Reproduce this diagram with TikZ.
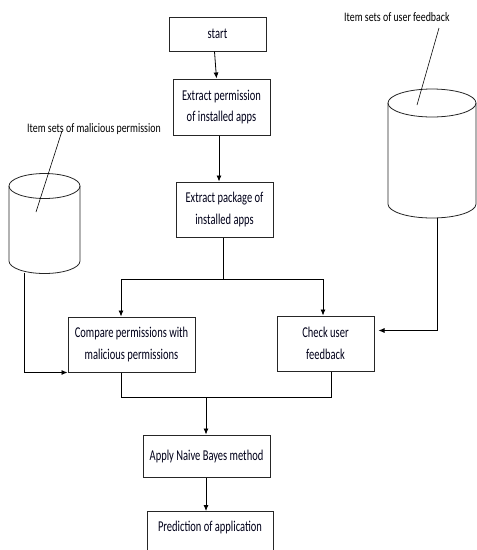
\documentclass[tikz,border=0pt]{standalone}
\usepackage{fontspec}
\setmainfont[FakeStretch=0.70]{Carlito}
\newfontfamily\lblfont[FakeStretch=0.76]{Carlito}
\usetikzlibrary{arrows.meta}
\begin{document}
\begin{tikzpicture}[x=1pt,y=-1pt,
  box/.style={draw=black!85, line width=1pt, rectangle, align=center, inner sep=0pt,
    font=\fontsize{15}{21.5}\selectfont, text=black!90!blue},
  conn/.style={draw=black, line width=0.8pt},
  arr/.style={conn, -{Latex[length=6pt,width=5pt]}},
  lbl/.style={font=\lblfont\fontsize{13}{15}\selectfont, inner sep=0pt},
  cyl/.style={draw=black!85, line width=0.8pt}]
\useasboundingbox (0,0) rectangle (477,550);
\clip (0,0) rectangle (477,550);
% boxes
\node[box, minimum width=97, minimum height=34] (start) at (217.5,34) {start};
\node[box, minimum width=97, minimum height=56] (perm) at (221.5,107) {Extract permission\\of installed apps};
\node[box, minimum width=97, minimum height=55] (pkg) at (224.5,209.5) {Extract package of\\installed apps};
\node[box, minimum width=127, minimum height=55] (cmp) at (131.5,344.5) {Compare permissions with\\malicious permissions};
\node[box, minimum width=97, minimum height=55] (chk) at (325.5,343.5) {Check user\\feedback};
\node[box, minimum width=127, minimum height=42] (apply) at (206.5,456) {Apply Naive Bayes method};
\node[box, minimum width=126, minimum height=64, anchor=north] (pred) at (210,511) {};
\node[box, draw=none] (predtext) at (210,527) {Prediction of application};
% cylinders
\draw[cyl] (44.5,186) ellipse [x radius=35.5, y radius=12.5];
\draw[cyl] (9,186) -- (9,261) arc[start angle=180, end angle=0, x radius=35.5, y radius=12.5] -- (80,186);
\coordinate (lcyl) at (24,272.5);
\draw[cyl] (432,103) ellipse [x radius=44, y radius=14];
\draw[cyl] (388,103) -- (388,204) arc[start angle=180, end angle=0, x radius=44, y radius=14] -- (476,103);
\coordinate (rcyl) at (437,217.5);
% labels
\node[lbl, anchor=west] (mlbl) at (27,129) {Item sets of malicious permission};
\node[lbl, anchor=west] (ulbl) at (344,17) {Item sets of user feedback};
\coordinate (mtip) at (36,212);
\coordinate (utip) at (417,105);
\draw[conn, line width=0.6pt] (62,131) -- (mtip);
\draw[conn, line width=0.6pt] (439,28) -- (utip);
% connectors
\draw[arr] ([xshift=-3]start.south) -- ([xshift=-5]perm.north);
\draw[arr] ([xshift=-2.5]perm.south) -- ([xshift=-5.5]pkg.north);
\coordinate (split) at (223,279);
\draw[conn] ([xshift=-1.5]pkg.south) -- (split);
\draw[arr] (split) -| ([xshift=-10.5]cmp.north);
\draw[arr] (split) -| ([xshift=-2.5]chk.north);
\draw[arr] (lcyl) |- (cmp.south west);
\draw[arr] (rcyl) |- ([xshift=4,yshift=13]chk.east);
\coordinate (merge) at (206,397);
\draw[conn] ([xshift=-10.5]cmp.south) |- (merge);
\draw[conn] ([xshift=5.5]chk.south) |- (merge);
\draw[arr] (merge) -- ([xshift=-0.5]apply.north);
\draw[arr] ([xshift=-0.5]apply.south) -- ([xshift=-4]pred.north);
\end{tikzpicture}
\end{document}
